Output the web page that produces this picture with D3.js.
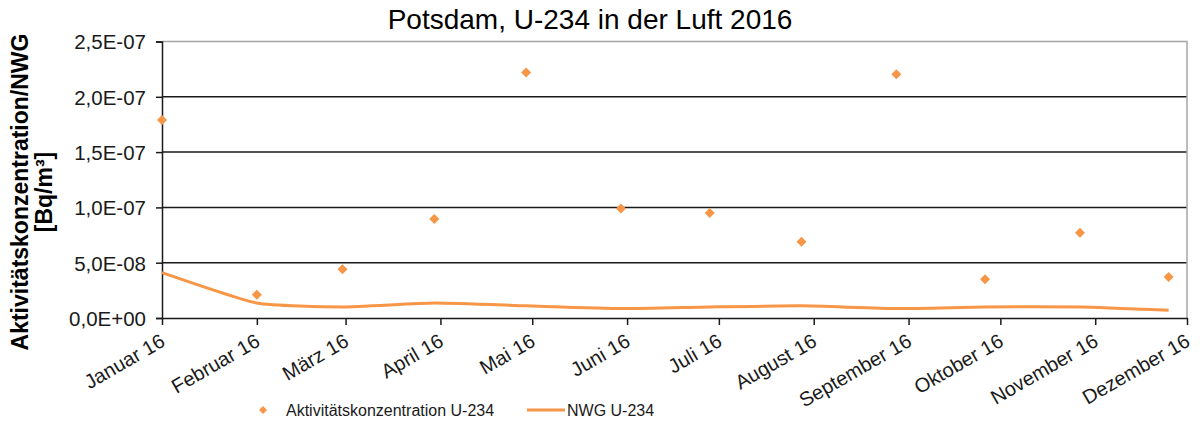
<!DOCTYPE html>
<html lang="de">

<head>
  <meta charset="UTF-8">
  <title>Potsdam, U-234 in der Luft 2016</title>
  <script src="https://d3js.org/d3.v7.min.js"></script>
  <style>
    body { margin: 0; background: #fff; }
    svg { font-family: "Liberation Sans", Arial, sans-serif; }
  </style>
</head>

<body>
  <svg id="chart" width="1200" height="423"></svg>
  <script>
    // Messdaten (Datum der Probe) und Nachweisgrenze
    let sampleDates = ['2016-01-01', '2016-02-01', '2016-02-29', '2016-03-30', '2016-04-29', '2016-05-30',
      '2016-06-28', '2016-07-28', '2016-08-28', '2016-09-26', '2016-10-27', '2016-11-25'];
    let activity = [1.79e-7, 2.1e-8, 4.4e-8, 8.95e-8, 2.22e-7, 9.9e-8, 9.5e-8, 6.9e-8, 2.205e-7, 3.5e-8, 7.7e-8, 3.7e-8];
    let nwg = [4.1e-8, 1.35e-8, 1.0e-8, 1.35e-8, 1.1e-8, 0.85e-8, 1.0e-8, 1.1e-8, 0.85e-8, 1.0e-8, 1.0e-8, 0.7e-8];

    let monthLabels = ['Januar 16', 'Februar 16', 'März 16', 'April 16', 'Mai 16', 'Juni 16', 'Juli 16',
      'August 16', 'September 16', 'Oktober 16', 'November 16', 'Dezember 16'];
    let yTicks = [0, 5e-8, 1e-7, 1.5e-7, 2e-7, 2.5e-7];
    let yTickLabels = ['0,0E+00', '5,0E-08', '1,0E-07', '1,5E-07', '2,0E-07', '2,5E-07'];

    let orange = '#F79646';
    let svg = d3.select('#chart');
    let parse = d3.timeParse('%Y-%m-%d');

    let data = sampleDates.map(function (d, i) {
      return { date: parse(d), value: activity[i], nwg: nwg[i] };
    });

    let x = d3.scaleTime().domain([parse('2016-01-01'), parse('2016-12-01')]).range([162, 1187]);
    let y = d3.scaleLinear().domain([0, 2.5e-7]).range([318, 41.5]);
    let months = d3.timeMonth.range(parse('2016-01-01'), parse('2016-12-02'));

    // Gitterlinien
    svg.append('g')
      .selectAll('line')
      .data(yTicks.slice(1, -1))
      .join('line')
      .attr('x1', 162).attr('x2', 1187)
      .attr('y1', function (d) { return y(d); })
      .attr('y2', function (d) { return y(d); })
      .attr('stroke', '#1a1a1a')
      .attr('stroke-width', 1.5);

    // Rahmen oben und rechts
    svg.append('path')
      .attr('d', 'M162,' + y(2.5e-7) + 'H' + x.range()[1] + 'V' + y(0))
      .attr('fill', 'none')
      .attr('stroke', '#a6a6a6')
      .attr('stroke-width', 1.5);

    // y-Achse
    let axisLeft = d3.axisLeft(y)
      .tickValues(yTicks)
      .tickSize(6)
      .tickFormat(function (d, i) { return yTickLabels[i]; });

    let gy = svg.append('g').attr('transform', 'translate(162,0)').call(axisLeft);
    gy.select('.domain').attr('stroke', '#1a1a1a').attr('stroke-width', 1.5);
    gy.selectAll('.tick line').attr('stroke', '#1a1a1a').attr('stroke-width', 1.5);
    gy.selectAll('.tick text')
      .attr('x', -16)
      .attr('dy', '0.36em')
      .attr('font-size', 20.5)
      .attr('font-family', '"Liberation Sans", Arial, sans-serif')
      .attr('fill', '#1a1a1a');

    // x-Achse
    let axisBottom = d3.axisBottom(x)
      .tickValues(months)
      .tickSize(7)
      .tickSizeOuter(0)
      .tickFormat(function (d, i) { return monthLabels[i]; });

    let gx = svg.append('g').attr('transform', 'translate(0,318)').call(axisBottom);
    gx.select('.domain').attr('stroke', '#1a1a1a').attr('stroke-width', 1.5);
    gx.selectAll('.tick line').attr('stroke', '#1a1a1a').attr('stroke-width', 1.5);
    gx.selectAll('.tick text')
      .attr('font-size', 20)
      .attr('font-family', '"Liberation Sans", Arial, sans-serif')
      .attr('fill', '#1a1a1a')
      .attr('text-anchor', 'end')
      .attr('y', 0)
      .attr('dy', 0)
      .attr('transform', 'translate(4,27) rotate(-30)');

    // NWG-Linie (geglättet wie in Excel)
    let line = d3.line()
      .x(function (d) { return x(d.date); })
      .y(function (d) { return y(d.nwg); })
      .curve(d3.curveCardinal.tension(0.5));

    svg.append('path')
      .datum(data)
      .attr('d', line)
      .attr('fill', 'none')
      .attr('stroke', orange)
      .attr('stroke-width', 3);

    // Messpunkte
    let diamond = d3.symbol(d3.symbolSquare, 50);
    svg.append('g')
      .selectAll('path')
      .data(data)
      .join('path')
      .attr('d', diamond)
      .attr('transform', function (d) { return 'translate(' + x(d.date) + ',' + y(d.value) + ') rotate(45)'; })
      .attr('fill', orange);

    // Titel
    svg.append('text')
      .attr('x', 590).attr('y', 29)
      .attr('text-anchor', 'middle')
      .attr('font-size', 28)
      .attr('fill', '#000')
      .text('Potsdam, U-234 in der Luft 2016');

    // y-Achsentitel
    let yTitle = svg.append('text')
      .attr('transform', 'translate(28,192) rotate(-90)')
      .attr('text-anchor', 'middle')
      .attr('font-size', 23)
      .attr('font-weight', 'bold')
      .attr('fill', '#000');
    yTitle.append('tspan').attr('x', 0).attr('y', 0).text('Aktivitätskonzentration/NWG');
    yTitle.append('tspan').attr('x', 0).attr('y', 24).text('[Bq/m³]');

    // Legende
    let legend = svg.append('g').attr('font-size', 16).attr('fill', '#1a1a1a');
    legend.append('path')
      .attr('d', d3.symbol(d3.symbolSquare, 32))
      .attr('transform', 'translate(263,410) rotate(45)')
      .attr('fill', orange);
    legend.append('text').attr('x', 286).attr('y', 416).text('Aktivitätskonzentration U-234');
    legend.append('line')
      .attr('x1', 527).attr('x2', 565).attr('y1', 410).attr('y2', 410)
      .attr('stroke', orange).attr('stroke-width', 3);
    legend.append('text').attr('x', 567).attr('y', 416).text('NWG U-234');
  </script>
</body>

</html>
